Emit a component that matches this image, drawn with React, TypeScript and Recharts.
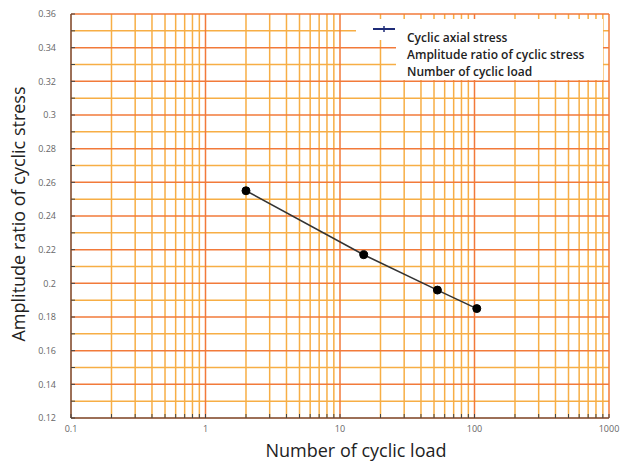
import { LineChart, Line, XAxis, YAxis, CartesianGrid, Legend, Label } from 'recharts';

// measured points: number of load cycles vs. amplitude ratio
const cycles = [2, 15, 53, 104];
const amplitudeRatio = [0.255, 0.217, 0.196, 0.185];

// log axis decades and the in-between multiples
const decades = [0.1, 1, 10, 100, 1000];
const decadeSteps = [2, 3, 4, 5, 6, 7, 8, 9];

const yMajorTicks = [0.12, 0.14, 0.16, 0.18, 0.2, 0.22, 0.24, 0.26, 0.28, 0.3, 0.32, 0.34, 0.36];
const yMinorTicks = [0.13, 0.15, 0.17, 0.19, 0.21, 0.23, 0.25, 0.27, 0.29, 0.31, 0.33, 0.35];

const legendLabels = [
  'Cyclic axial stress',
  'Amplitude ratio of cyclic stress',
  'Number of cyclic load',
];

const data = cycles.map((n, i) => ({ n, ratio: amplitudeRatio[i] }));
const xMinorTicks = decades
  .slice(0, -1)
  .flatMap((d) => decadeSteps.map((k) => Number((d * k).toPrecision(3))));
const xTicks = [...decades, ...xMinorTicks].sort((a, b) => a - b);
const yTicks = [...yMajorTicks, ...yMinorTicks].sort((a, b) => a - b);

const FONT = '"Open Sans", sans-serif';
const MAJOR = '#f27a3a';
const MINOR = '#f7ae45';

function LegendBox() {
  return (
    <div style={{ position: 'relative', width: 247, height: 61, fontFamily: FONT }}>
      <div style={{ position: 'absolute', left: 0, top: 0, width: 247, height: 21, background: '#fff' }} />
      <div style={{ position: 'absolute', left: 40, top: 21, width: 207, height: 40, background: '#fff' }} />
      <svg width={40} height={21} style={{ position: 'absolute', left: 17, top: 0 }}>
        <line x1={0} y1={10} x2={22} y2={10} stroke="#1f2c78" strokeWidth={2} />
        <line x1={11} y1={7} x2={11} y2={13} stroke="#1f2c78" strokeWidth={1.5} />
      </svg>
      {legendLabels.map((t, i) => (
        <div
          key={t}
          style={{
            position: 'absolute',
            left: 51,
            top: 11 + i * 17,
            fontSize: 12,
            fontWeight: 600,
            color: '#222',
            lineHeight: '15px',
            whiteSpace: 'nowrap',
          }}
        >
          {t}
        </div>
      ))}
    </div>
  );
}

export default function App() {
  return (
    <div style={{ position: 'absolute', left: 0, top: 0, fontFamily: FONT }}>
      <LineChart
        width={622}
        height={466}
        data={data}
        margin={{ top: 14, right: 13, left: 0, bottom: 0 }}
      >
        <CartesianGrid
          horizontalValues={yMinorTicks}
          verticalValues={xMinorTicks}
          stroke={MINOR}
          strokeWidth={1.5}
        />
        <CartesianGrid
          horizontalValues={yMajorTicks}
          verticalValues={decades}
          stroke={MAJOR}
          strokeWidth={1.5}
        />
        <XAxis
          dataKey="n"
          type="number"
          scale="log"
          domain={[0.1, 1000]}
          ticks={xTicks}
          interval={0}
          height={48}
          tickSize={-4}
          tickMargin={12}
          stroke="#444"
          tick={{ fontSize: 9, fill: '#666', fontFamily: FONT }}
          tickFormatter={(v: number) => (decades.includes(v) ? String(v) : '')}
        >
          <Label
            value="Number of cyclic load"
            position="insideBottom"
            offset={9}
            dx={16}
            style={{ fontSize: 18, fill: '#222', fontFamily: FONT }}
          />
        </XAxis>
        <YAxis
          type="number"
          domain={[0.12, 0.36]}
          ticks={yTicks}
          interval={0}
          width={71}
          tickSize={-4}
          tickMargin={19}
          stroke="#444"
          tick={{ fontSize: 9, fill: '#666', fontFamily: FONT }}
          tickFormatter={(v: number) => (yMajorTicks.includes(v) ? String(v) : '')}
        >
          <Label
            value="Amplitude ratio of cyclic stress"
            angle={-90}
            position="insideLeft"
            offset={19}
            dy={-2}
            style={{ fontSize: 18, fill: '#222', fontFamily: FONT, textAnchor: 'middle' }}
          />
        </YAxis>
        <Legend
          layout="horizontal"
          align="center"
          verticalAlign="middle"
          wrapperStyle={{ left: 356, top: 19, width: 247, height: 61 }}
          content={() => <LegendBox />}
        />
        <Line
          type="linear"
          dataKey="ratio"
          name="Cyclic axial stress"
          stroke="#333"
          strokeWidth={1.5}
          dot={{ r: 4, fill: '#000', stroke: '#000', strokeWidth: 1 }}
          isAnimationActive={false}
        />
      </LineChart>
    </div>
  );
}
